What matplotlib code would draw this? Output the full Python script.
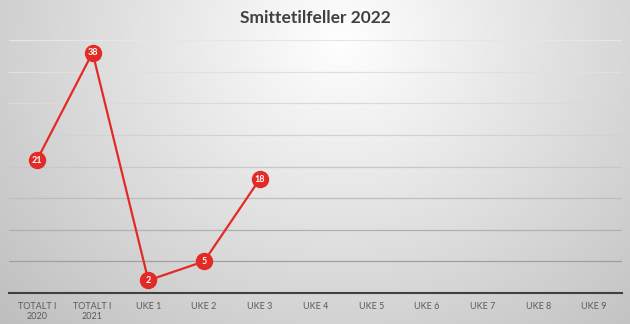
import numpy as np
import matplotlib
matplotlib.use("Agg")
import matplotlib.pyplot as plt

categories = ["TOTALT I\n2020", "TOTALT I\n2021", "UKE 1", "UKE 2", "UKE 3",
              "UKE 4", "UKE 5", "UKE 6", "UKE 7", "UKE 8", "UKE 9"]
values = [21, 38, 2, 5, 18]
title = "Smittetilfeller 2022"

W, H = 630, 324
fig = plt.figure(figsize=(W / 100, H / 100), dpi=100)

# background radial gradient
bg = fig.add_axes([0, 0, 1, 1])
yy, xx = np.mgrid[0:H, 0:W]
d = np.sqrt(((xx - 340) / 340.0) ** 2 + ((yy - 40) / 300.0) ** 2)
val = np.clip(1 - 0.185 * d, 0, 1)
bg.imshow(np.dstack([val, val, val]), extent=[0, W, H, 0], aspect="auto")
bg.set_axis_off()

ax = fig.add_axes([9 / W, (H - 293) / H, (622 - 9) / W, (293 - 40) / H])
ax.set_facecolor("none")
x = np.arange(len(categories))
ax.set_xlim(-0.5, len(categories) - 0.5)
ax.set_ylim(0, 40)
ax.set_yticks(np.arange(5, 41, 5))
ax.yaxis.grid(True, linewidth=0.9)
ax.set_axisbelow(True)
glines = ax.get_ygridlines()
cols = ["#a0a0a0", "#b0b0b0", "#bdbdbd", "#c8c8c8", "#d2d2d2", "#dadada", "#e0e0e0", "#e6e6e6"]
for g, c in zip(glines, cols):
    g.set_color(c)
ax.tick_params(axis="y", left=False, labelleft=False)
ax.tick_params(axis="x", bottom=False, labelsize=6.5, labelcolor="#5a5a5a", pad=3)
ax.set_xticks(x)
ax.set_xticklabels(categories, fontfamily="Lato", linespacing=1.15)
for s in ["top", "right", "left"]:
    ax.spines[s].set_visible(False)
ax.spines["bottom"].set_color("#404040")
ax.spines["bottom"].set_linewidth(1.5)

red = "#E22A26"
ax.plot(x[:len(values)], values, color=red, linewidth=1.6, marker="o",
        markersize=11.5, markerfacecolor=red, markeredgecolor=red, zorder=3,
        clip_on=False)
for xi, v in zip(x, values):
    ax.text(xi, v, str(v), color="white", fontsize=6.5, fontweight="bold",
            ha="center", va="center", zorder=4, fontfamily="Lato")

fig.text(0.5, 1 - 18 / H, title, ha="center", va="center", fontsize=12.5,
         fontweight="bold", color="#404040", fontfamily="Lato")

fig.savefig("out.png", dpi=100)
